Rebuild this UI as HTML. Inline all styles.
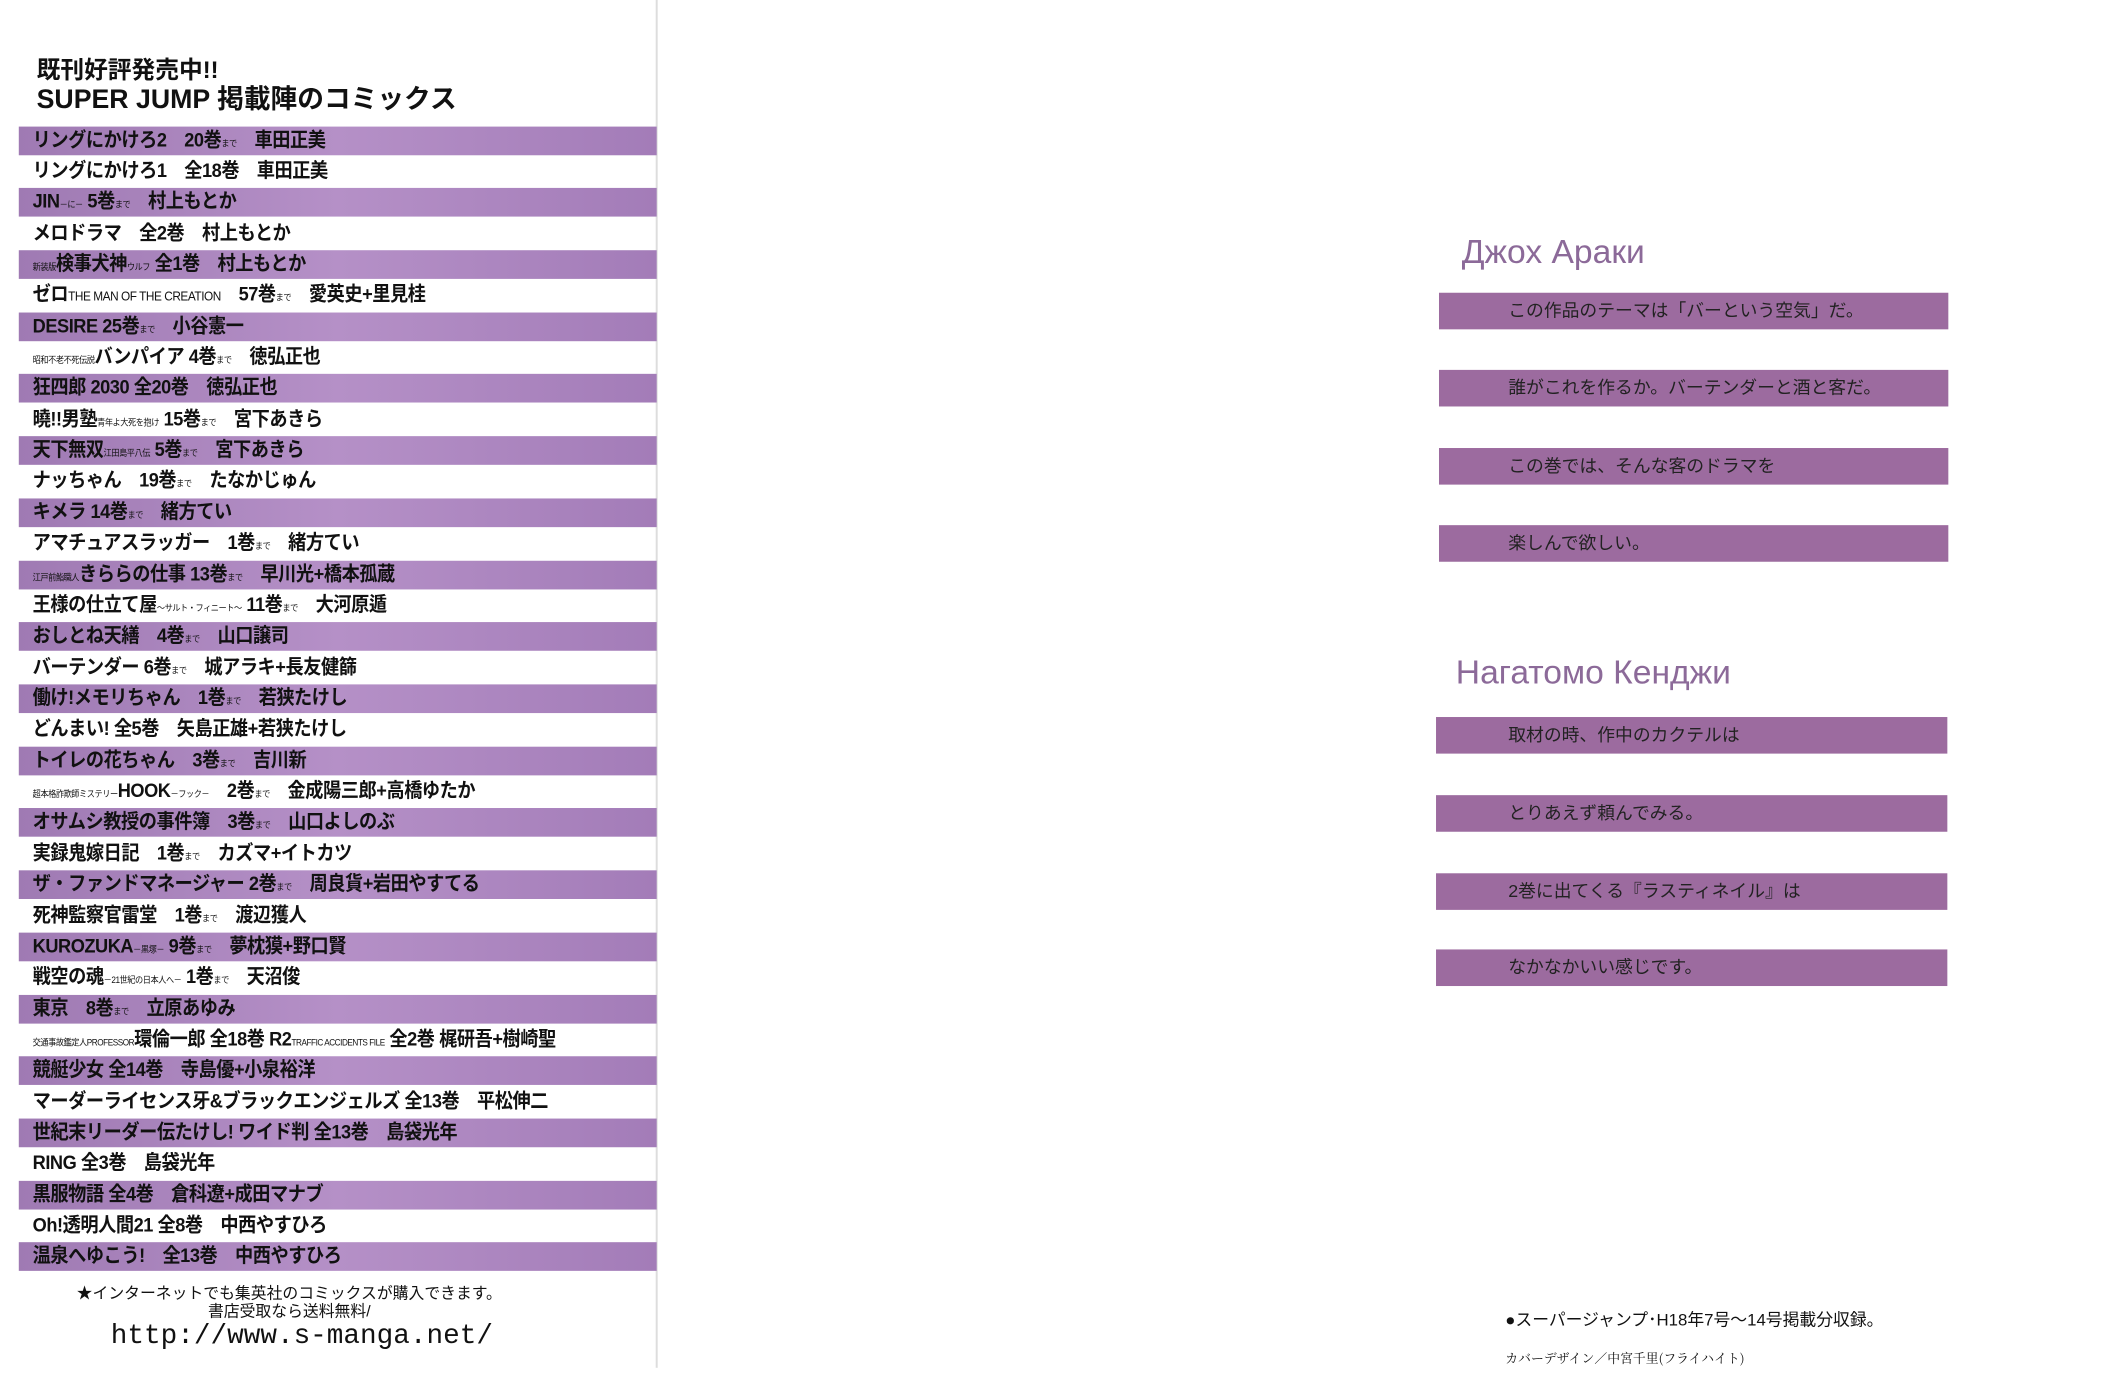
<!DOCTYPE html>
<html><head><meta charset="utf-8"><style>
body{margin:0;width:2104px;height:1400px;background:#fff;position:relative;overflow:hidden;font-family:"Liberation Sans","Noto Sans CJK JP",sans-serif;color:#111}
#W{position:absolute;left:0;top:0;width:2104px;height:1400px;transform:scale(0.989);transform-origin:0 0}
.a{position:absolute;white-space:nowrap}
.band{position:absolute;left:19px;width:645px;height:29px;background:linear-gradient(90deg,#9f7ab3 0%,#b590c7 50%,#a37cb8 100%)}
.row{position:absolute;left:33px;font-size:20px;font-weight:bold;line-height:29px;white-space:nowrap;letter-spacing:-0.5px;transform:scaleX(0.92);transform-origin:0 0}
.row small{font-size:9px;font-weight:normal}
.rb{position:absolute;height:37px;background:#9c6b9f}
.rt{position:absolute;left:1525px;font-size:18px;line-height:37px;color:#222}
</style></head><body><div id="W">
<div class="a" style="left:663px;top:0;width:2px;height:1383px;background:#ddd"></div>
<div class="a" style="left:37px;top:58px;font-size:24px;font-weight:bold;line-height:28px">既刊好評発売中!!<br><span style="font-size:27px">SUPER JUMP 掲載陣のコミックス</span></div>
<div id="L"></div>
<div class="a" style="left:0;width:585px;text-align:center;top:1300px;font-size:16px;line-height:18px">★インターネットでも集英社のコミックスが購入できます。<br>書店受取なら送料無料/</div>
<div class="a" style="left:112px;top:1336px;font-size:28px;font-family:'Liberation Mono','DejaVu Sans Mono',monospace">http://www.s-manga.net/</div>

<div class="a" style="left:1478px;top:236px;font-size:34px;color:#8c6a99">Джох Араки</div>
<div class="rb" style="left:1455px;top:296px;width:515px"></div>
<div class="rb" style="left:1455px;top:374px;width:515px"></div>
<div class="rb" style="left:1455px;top:453px;width:515px"></div>
<div class="rb" style="left:1455px;top:531px;width:515px"></div>
<div class="rt" style="top:296px">この作品のテーマは「バーという空気」だ。</div>
<div class="rt" style="top:374px">誰がこれを作るか。バーテンダーと酒と客だ。</div>
<div class="rt" style="top:453px">この巻では、そんな客のドラマを</div>
<div class="rt" style="top:531px">楽しんで欲しい。</div>
<div class="a" style="left:1472px;top:661px;font-size:34px;color:#8c6a99">Нагатомо Кенджи</div>
<div class="rb" style="left:1452px;top:725px;width:517px"></div>
<div class="rb" style="left:1452px;top:804px;width:517px"></div>
<div class="rb" style="left:1452px;top:883px;width:517px"></div>
<div class="rb" style="left:1452px;top:960px;width:517px"></div>
<div class="rt" style="top:725px">取材の時、作中のカクテルは</div>
<div class="rt" style="top:804px">とりあえず頼んでみる。</div>
<div class="rt" style="top:883px">2巻に出てくる『ラスティネイル』は</div>
<div class="rt" style="top:960px">なかなかいい感じです。</div>
<div class="a" style="left:1522px;top:1320px;font-size:17px">●スーパージャンプ･H18年7号〜14号掲載分収録。</div>
<div class="a" style="left:1522px;top:1363px;font-size:13px;font-family:'Noto Serif CJK SC',serif">カバーデザイン／中宮千里(フライハイト)</div>
</div>
<script>
var rows=["リングにかけろ2　20巻<small>まで</small>　車田正美","リングにかけろ1　全18巻　車田正美","JIN<small>－に－</small> 5巻<small>まで</small>　村上もとか","メロドラマ　全2巻　村上もとか","<small>新装版</small>検事犬神<small>ウルフ</small> 全1巻　村上もとか","ゼロ<small style='font-size:13px'>THE MAN OF THE CREATION</small>　57巻<small>まで</small>　愛英史+里見桂","DESIRE 25巻<small>まで</small>　小谷憲一","<small>昭和不老不死伝説</small>バンパイア 4巻<small>まで</small>　徳弘正也","狂四郎 2030 全20巻　徳弘正也","曉!!男塾<small>青年よ大死を抱け</small> 15巻<small>まで</small>　宮下あきら","天下無双<small>江田島平八伝</small> 5巻<small>まで</small>　宮下あきら","ナッちゃん　19巻<small>まで</small>　たなかじゅん","キメラ 14巻<small>まで</small>　緒方てい","アマチュアスラッガー　1巻<small>まで</small>　緒方てい","<small>江戸前鮨職人</small>きららの仕事 13巻<small>まで</small>　早川光+橋本孤蔵","王様の仕立て屋<small>～サルト・フィニート～</small> 11巻<small>まで</small>　大河原遁","おしとね天繕　4巻<small>まで</small>　山口譲司","バーテンダー 6巻<small>まで</small>　城アラキ+長友健篩","働け!メモリちゃん　1巻<small>まで</small>　若狭たけし","どんまい! 全5巻　矢島正雄+若狭たけし","トイレの花ちゃん　3巻<small>まで</small>　吉川新","<small>超本格詐欺師ミステリー</small>HOOK<small>－フック－</small>　2巻<small>まで</small>　金成陽三郎+高橋ゆたか","オサムシ教授の事件簿　3巻<small>まで</small>　山口よしのぶ","実録鬼嫁日記　1巻<small>まで</small>　カズマ+イトカツ","ザ・ファンドマネージャー 2巻<small>まで</small>　周良貨+岩田やすてる","死神監察官雷堂　1巻<small>まで</small>　渡辺獲人","KUROZUKA<small>－黒塚－</small> 9巻<small>まで</small>　夢枕獏+野口賢","戦空の魂<small>－21世紀の日本人へ－</small> 1巻<small>まで</small>　天沼俊","東京　8巻<small>まで</small>　立原あゆみ","<small>交通事故鑑定人PROFESSOR</small>環倫一郎 全18巻 R2<small>TRAFFIC ACCIDENTS FILE</small> 全2巻 梶研吾+樹崎聖","競艇少女 全14巻　寺島優+小泉裕洋","マーダーライセンス牙&ブラックエンジェルズ 全13巻　平松伸二","世紀末リーダー伝たけし! ワイド判 全13巻　島袋光年","RING 全3巻　島袋光年","黒服物語 全4巻　倉科遼+成田マナブ","Oh!透明人間21 全8巻　中西やすひろ","温泉へゆこう!　全13巻　中西やすひろ"];
var h="";rows.forEach(function(r,i){var t=127.5+i*31.36;if(i%2==0)h+='<div class="band" style="top:'+t+'px"></div>';h+='<div class="row" style="top:'+t+'px">'+r+'</div>';});
document.getElementById("L").innerHTML=h;
</script>
</body></html>
